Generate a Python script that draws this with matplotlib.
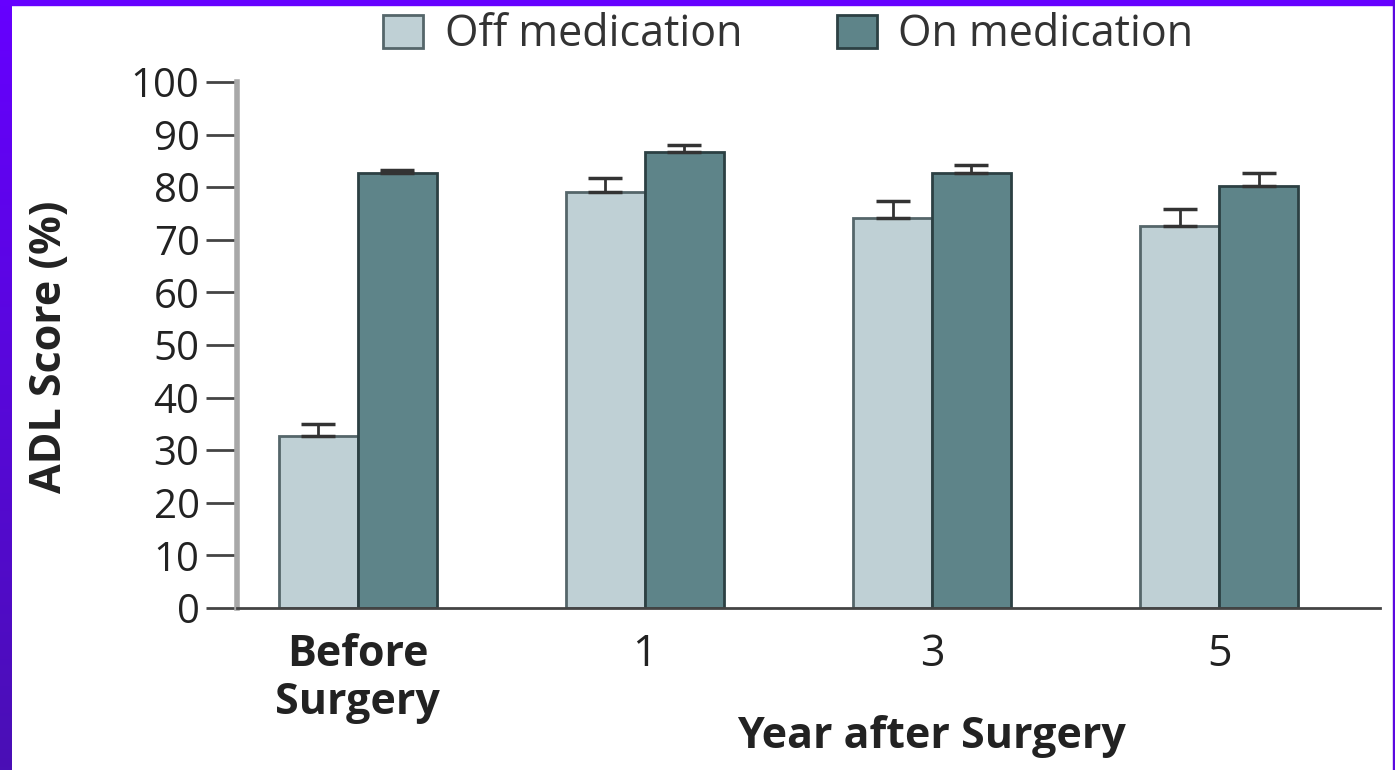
import matplotlib
matplotlib.use("Agg")
import matplotlib.pyplot as plt
import numpy as np
from matplotlib.patches import Rectangle
from matplotlib.colors import LinearSegmentedColormap

# data
groups = ["Before\nSurgery", "1", "3", "5"]
off_med = [32.7, 79.1, 74.1, 72.6]
off_err = [2.3, 2.6, 3.3, 3.3]
on_med = [82.7, 86.7, 82.7, 80.2]
on_err = [0.6, 1.3, 1.5, 2.5]
y_ticks = [0, 10, 20, 30, 40, 50, 60, 70, 80, 90, 100]

colors = {
    "OFF": "#bfd0d5",
    "OFF_EDGE": "#55666a",
    "ON": "#5e8489",
    "ON_EDGE": "#2c4043",
    "TEXT": "#222222",
    "SPINE_Y": "#a8a8a8",
    "SPINE_X": "#444444",
    "BORDER_TOP": "#6600ff",
    "BORDER_BOT": "#4a0fb5",
}

plt.rcParams["font.family"] = ["Open Sans", "DejaVu Sans"]

W, H = 1395, 770
fig = plt.figure(figsize=(W / 100, H / 100), dpi=100)
fig.patch.set_facecolor("white")

def px(x0, y0, x1, y1):
    # pixel box (top-left origin) -> figure fraction
    return [x0 / W, 1 - y1 / H, (x1 - x0) / W, (y1 - y0) / H]

ax = fig.add_axes(px(237, 82, 1380, 608))
x = np.arange(len(groups))
bw = 0.275

ax.bar(x - bw / 2, off_med, bw, color=colors["OFF"], edgecolor=colors["OFF_EDGE"],
       linewidth=2, label="Off medication", zorder=2)
ax.bar(x + bw / 2, on_med, bw, color=colors["ON"], edgecolor=colors["ON_EDGE"],
       linewidth=2, label="On medication", zorder=2)
ax.errorbar(x - bw / 2, off_med, yerr=[np.zeros(len(off_err)), off_err], fmt="none",
            ecolor="#333333", elinewidth=2, capsize=12, capthick=2.5, zorder=3)
ax.errorbar(x + bw / 2, on_med, yerr=[np.zeros(len(on_err)), on_err], fmt="none",
            ecolor="#333333", elinewidth=2, capsize=12, capthick=2.5, zorder=3)

ax.set_xlim(-0.42, 3.56)
ax.set_ylim(0, 100)
ax.set_yticks(y_ticks)
ax.set_yticklabels([str(v) for v in y_ticks], fontsize=29, color=colors["TEXT"])
ax.set_xticks(x)
ax.set_xticklabels(groups, fontsize=31, color=colors["TEXT"], linespacing=1.15)
for lbl in ax.get_xticklabels()[:1]:
    lbl.set_fontweight("bold")
ax.tick_params(axis="x", length=0, pad=18)
ax.tick_params(axis="y", length=22, width=2, color="#444444", pad=5)

for side in ["top", "right"]:
    ax.spines[side].set_visible(False)
ax.spines["left"].set_color(colors["SPINE_Y"])
ax.spines["left"].set_linewidth(4)
ax.spines["bottom"].set_color(colors["SPINE_X"])
ax.spines["bottom"].set_linewidth(2)

fig.text(932 / W, 1 - 737 / H, "Year after Surgery", fontsize=31, fontweight="bold",
         ha="center", va="center", color=colors["TEXT"])
fig.text(49 / W, 1 - 347 / H, "ADL Score (%)", fontsize=31, fontweight="bold",
         ha="center", va="center", rotation=90, color=colors["TEXT"])

ax.legend(loc="center left", bbox_to_anchor=(383 / W, 1 - 35 / H),
          bbox_transform=fig.transFigure, ncol=2, frameon=False, fontsize=31,
          borderpad=0, borderaxespad=0,
          handlelength=0.93, handleheight=0.8, handletextpad=0.5, columnspacing=2.2,
          labelcolor="#333333")

# purple slide border
grad = np.linspace(0, 1, 256).reshape(-1, 1)
bax = fig.add_axes(px(0, 0, 12, 770))
cmap = LinearSegmentedColormap.from_list("border", [colors["BORDER_TOP"], colors["BORDER_BOT"]])
bax.imshow(grad, aspect="auto", cmap=cmap)
bax.axis("off")
fig.patches.append(Rectangle((0, 1 - 5 / H), 1, 5 / H, transform=fig.transFigure,
                             color=colors["BORDER_TOP"], zorder=5))
fig.patches.append(Rectangle((1393 / W, 0), 2 / W, 1, transform=fig.transFigure,
                             color="#5a08e0", zorder=5))

fig.savefig("out.png", dpi=100)
